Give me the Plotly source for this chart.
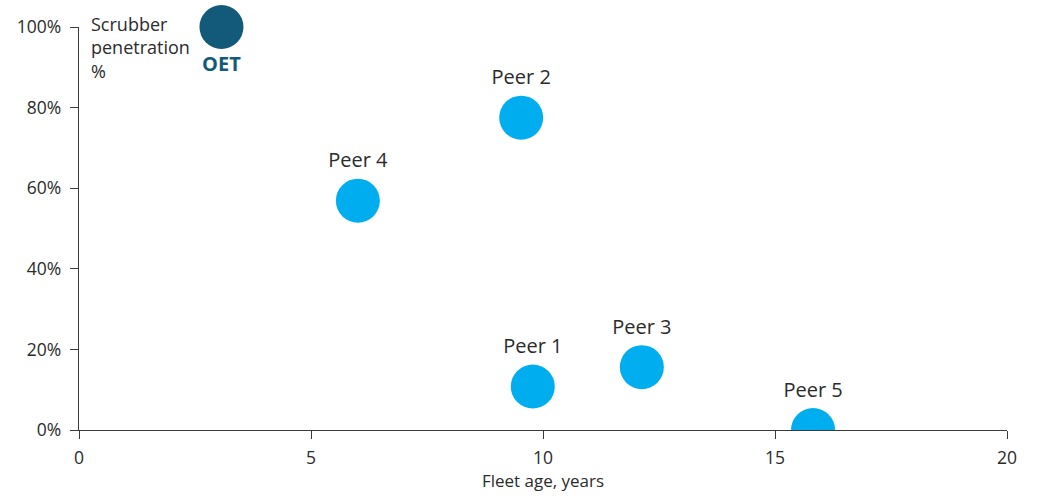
import plotly.graph_objects as go

peer_names = ["Peer 1", "Peer 2", "Peer 3", "Peer 4", "Peer 5"]
peer_age = [9.78, 9.53, 12.13, 6.01, 15.82]
peer_scrubber = [10.8, 77.5, 15.6, 56.9, 0.0]

oet_name = ["OET"]
oet_age = [3.07]
oet_scrubber = [100.0]

x_ticks = [0, 5, 10, 15, 20]
y_ticks = [0, 20, 40, 60, 80, 100]
y_tick_labels = ["0%", "20%", "40%", "60%", "80%", "100%"]

FONT = "Open Sans"
TXT = "#2b2b2b"

fig = go.Figure()
fig.add_trace(go.Scatter(
    x=peer_age, y=peer_scrubber, mode="markers+text",
    text=peer_names, textposition="top center",
    textfont=dict(family=FONT, size=20, color=TXT),
    marker=dict(size=44, color="#00AEEF", line=dict(width=0)),
    cliponaxis=True, showlegend=False, hoverinfo="skip",
))
fig.add_trace(go.Scatter(
    x=oet_age, y=oet_scrubber, mode="markers+text",
    text=["<b>" + n + "</b>" for n in oet_name], textposition="bottom center",
    textfont=dict(family=FONT, size=20, color="#135a7a"),
    marker=dict(size=44, color="#135a7a", line=dict(width=0)),
    cliponaxis=False, showlegend=False, hoverinfo="skip",
))

axis_common = dict(
    showgrid=False, zeroline=False, showline=True, linecolor="#3a3a3a",
    linewidth=1.3, ticks="outside", ticklen=8, tickcolor="#3a3a3a",
    tickwidth=1.3, tickfont=dict(family=FONT, size=17.5, color=TXT),
    automargin=False,
)
fig.update_xaxes(range=[0, 20], tickvals=x_ticks, ticktext=[str(v) for v in x_ticks],
                 ticklabelstandoff=4,
                 title=dict(text="Fleet age, years", font=dict(family=FONT, size=17, color=TXT), standoff=6),
                 **axis_common)
fig.update_yaxes(range=[0, 100], tickvals=y_ticks, ticktext=y_tick_labels,
                 ticklabelstandoff=5, **axis_common)

fig.add_annotation(
    xref="paper", yref="paper", x=0.011, y=1.042, xanchor="left", yanchor="top",
    text="Scrubber<br>penetration<br>%", showarrow=False, align="left",
    font=dict(family=FONT, size=18, color=TXT),
)

fig.update_layout(
    width=1038, height=496,
    margin=dict(l=79, r=31, t=27, b=66),
    plot_bgcolor="white", paper_bgcolor="white",
)

fig.write_html("out.html")
